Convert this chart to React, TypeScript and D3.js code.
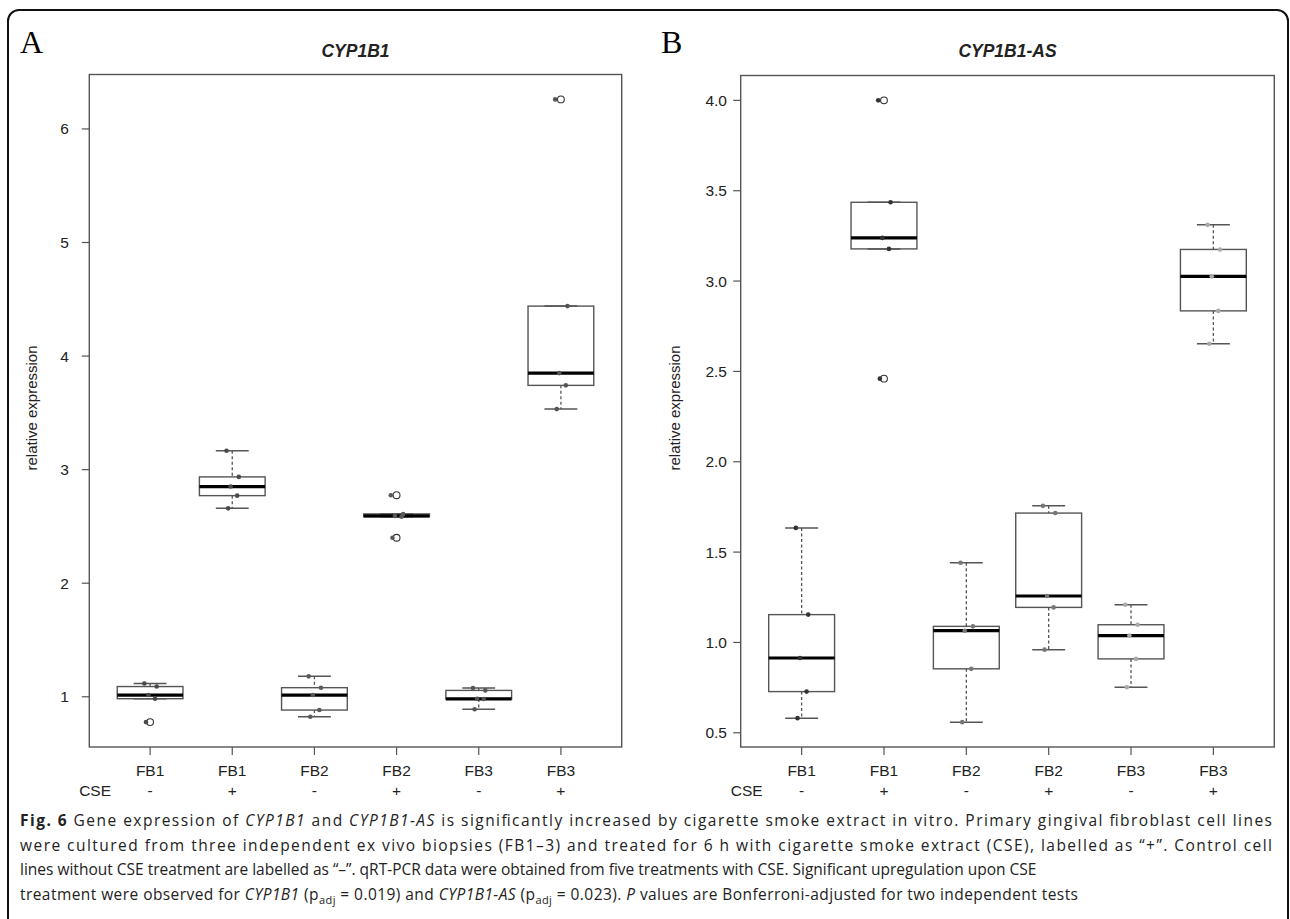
import React from "react";
import * as d3 from "d3";

// ---------- data ----------
const groupLabels = ["FB1", "FB1", "FB2", "FB2", "FB3", "FB3"];
const cseLabels = ["-", "+", "-", "+", "-", "+"];

// CYP1B1 (panel A)
const cyp_FB1_neg = [0.777, 0.983, 1.015, 1.09, 1.117];
const cyp_FB1_pos = [2.659, 2.771, 2.851, 2.936, 3.166];
const cyp_FB2_neg = [0.824, 0.883, 1.015, 1.08, 1.18];
const cyp_FB2_pos = [2.4, 2.585, 2.592, 2.61, 2.775];
const cyp_FB3_neg = [0.89, 0.98, 0.982, 1.056, 1.077];
const cyp_FB3_pos = [3.533, 3.742, 3.85, 4.44, 6.26];

// CYP1B1-AS (panel B)
const as_FB1_neg = [0.581, 0.728, 0.914, 1.154, 1.634];
const as_FB1_pos = [2.46, 3.178, 3.239, 3.436, 4.0];
const as_FB2_neg = [0.559, 0.854, 1.065, 1.089, 1.441];
const as_FB2_pos = [0.96, 1.194, 1.257, 1.716, 1.756];
const as_FB3_neg = [0.752, 0.909, 1.038, 1.098, 1.209];
const as_FB3_pos = [2.653, 2.835, 3.026, 3.175, 3.311];

const ticksA = [1, 2, 3, 4, 5, 6];
const ticksB = [0.5, 1.0, 1.5, 2.0, 2.5, 3.0, 3.5, 4.0];

const seriesA = [cyp_FB1_neg, cyp_FB1_pos, cyp_FB2_neg, cyp_FB2_pos, cyp_FB3_neg, cyp_FB3_pos];
const seriesB = [as_FB1_neg, as_FB1_pos, as_FB2_neg, as_FB2_pos, as_FB3_neg, as_FB3_pos];

// ---------- styling constants ----------
const JITTER = [-0.05, 0.06, -0.02, 0.08, -0.07];
const AXIS = "#555";
const FONT = "'Liberation Sans', Arial, sans-serif";

function fivenum(v: number[]) {
  const x = [...v].sort((a, b) => a - b);
  const n = x.length;
  const n4 = Math.floor((n + 3) / 2) / 2;
  const d = [1, n4, (n + 1) / 2, n + 1 - n4, n];
  return d.map((i) => 0.5 * (x[Math.floor(i) - 1] + x[Math.ceil(i) - 1]));
}

function boxStats(v: number[]) {
  const f = fivenum(v);
  const q1 = f[1], med = f[2], q3 = f[3];
  const iqr = q3 - q1;
  const lo = q1 - 1.5 * iqr, hi = q3 + 1.5 * iqr;
  const inside = v.filter((d) => d >= lo && d <= hi);
  return {
    q1, med, q3,
    wlo: d3.min(inside) as number,
    whi: d3.max(inside) as number,
    out: v.filter((d) => d < lo || d > hi),
  };
}

type PanelProps = {
  series: number[][];
  ticks: number[];
  tickFmt: (d: number) => string;
  left: number;
  right: number;
  top: number;
  bottom: number;
  title: string;
  letter: string;
  letterX: number;
  yTitleX: number;
  tickLabelAnchor: "middle" | "end";
  tickLabelX: number;
  dotColors: string[];
};

function Panel(p: PanelProps) {
  const all = p.series.flat();
  const mn = d3.min(all) as number, mx = d3.max(all) as number;
  const pad = (mx - mn) * 0.04;
  const y = d3.scaleLinear().domain([mn - pad, mx + pad]).range([p.bottom, p.top]);
  const x = d3.scaleLinear().domain([0.26, 6.74]).range([p.left, p.right]);
  const step = x(2) - x(1);
  const bw = step * 0.8;
  const cx = (p.left + p.right) / 2;

  return (
    <g>
      <text x={p.letterX} y={53} fontFamily="'Liberation Serif', 'Times New Roman', serif" fontSize={32} fill="#000">
        {p.letter}
      </text>
      <text x={cx} y={57} textAnchor="middle" fontFamily={FONT} fontWeight="bold" fontStyle="italic" fontSize={17.5} fill="#222">
        {p.title}
      </text>
      <rect x={p.left} y={p.top} width={p.right - p.left} height={p.bottom - p.top} fill="none" stroke={AXIS} strokeWidth={1.4} />
      {p.ticks.map((t) => (
        <g key={t}>
          <line x1={p.left - 7.5} x2={p.left} y1={y(t)} y2={y(t)} stroke={AXIS} strokeWidth={1.2} />
          <text x={p.tickLabelX} y={y(t) + 5.5} textAnchor={p.tickLabelAnchor} fontFamily={FONT} fontSize={15.5} fill="#222">
            {p.tickFmt(t)}
          </text>
        </g>
      ))}
      <text
        transform={`translate(${p.yTitleX},${408}) rotate(-90)`}
        textAnchor="middle"
        fontFamily={FONT}
        fontSize={15}
        fill="#222"
      >
        relative expression
      </text>
      {groupLabels.map((g, i) => (
        <g key={i}>
          <line x1={x(i + 1)} x2={x(i + 1)} y1={p.bottom} y2={p.bottom + 8} stroke={AXIS} strokeWidth={1.2} />
          <text x={x(i + 1)} y={775.5} textAnchor="middle" fontFamily={FONT} fontSize={15.5} fill="#222">
            {g}
          </text>
          <text x={x(i + 1)} y={795.5} textAnchor="middle" fontFamily={FONT} fontSize={15.5} fill="#222">
            {cseLabels[i]}
          </text>
        </g>
      ))}
      <text x={x(1) - 55} y={795.5} textAnchor="middle" fontFamily={FONT} fontSize={15.5} fill="#222">
        CSE
      </text>
      {p.series.map((vals, i) => {
        const s = boxStats(vals);
        const c = x(i + 1);
        const col = p.dotColors[i];
        return (
          <g key={i}>
            <line x1={c} x2={c} y1={y(s.whi)} y2={y(s.q3)} stroke={AXIS} strokeWidth={1.3} strokeDasharray="3,2.5" />
            <line x1={c} x2={c} y1={y(s.q1)} y2={y(s.wlo)} stroke={AXIS} strokeWidth={1.3} strokeDasharray="3,2.5" />
            <line x1={c - bw / 4} x2={c + bw / 4} y1={y(s.whi)} y2={y(s.whi)} stroke={AXIS} strokeWidth={1.5} />
            <line x1={c - bw / 4} x2={c + bw / 4} y1={y(s.wlo)} y2={y(s.wlo)} stroke={AXIS} strokeWidth={1.5} />
            <rect x={c - bw / 2} y={y(s.q3)} width={bw} height={Math.max(0.5, y(s.q1) - y(s.q3))} fill="none" stroke={AXIS} strokeWidth={1.4} />
            <line x1={c - bw / 2} x2={c + bw / 2} y1={y(s.med)} y2={y(s.med)} stroke="#000" strokeWidth={3.2} />
            {s.out.map((o, k) => (
              <circle key={k} cx={c} cy={y(o)} r={3.4} fill="#fff" stroke="#333" strokeWidth={1.1} />
            ))}
            {vals.map((v, k) => (
              <circle key={"d" + k} cx={c + JITTER[k % JITTER.length] * step} cy={y(v)} r={2.3} fill={col} />
            ))}
          </g>
        );
      })}
    </g>
  );
}

const captionLines: { t: string; b?: boolean; i?: boolean; sub?: boolean }[][] = [
  [
    { t: "Fig. 6", b: true },
    { t: " Gene expression of " },
    { t: "CYP1B1", i: true },
    { t: " and " },
    { t: "CYP1B1-AS", i: true },
    { t: " is significantly increased by cigarette smoke extract in vitro. Primary gingival fibroblast cell lines" },
  ],
  [
    { t: "were cultured from three independent ex vivo biopsies (FB1\u20133) and treated for 6 h with cigarette smoke extract (CSE), labelled as \u201c+\u201d. Control cell" },
  ],
  [
    { t: "lines without CSE treatment are labelled as \u201c\u2013\u201d. qRT-PCR data were obtained from five treatments with CSE. Significant upregulation upon CSE" },
  ],
  [
    { t: "treatment were observed for " },
    { t: "CYP1B1", i: true },
    { t: " (p" },
    { t: "adj", sub: true },
    { t: " = 0.019) and " },
    { t: "CYP1B1-AS", i: true },
    { t: " (p" },
    { t: "adj", sub: true },
    { t: " = 0.023). " },
    { t: "P", i: true },
    { t: " values are Bonferroni-adjusted for two independent tests" },
  ],
];
const captionWidths = [1252, 1252, 0, 1058];

export default function App() {
  return (
    <svg
      width={1290}
      height={919}
      style={{ position: "absolute", left: 0, top: 0, background: "#fff" }}
    >
      <rect x={0} y={0} width={1290} height={919} fill="#fff" />
      <rect x={8} y={10} width={1280} height={940} rx={11} fill="none" stroke="#111" strokeWidth={2} />
      <Panel
        series={seriesA}
        ticks={ticksA}
        tickFmt={(d) => String(d)}
        left={89.3}
        right={621.7}
        top={74.5}
        bottom={747}
        title="CYP1B1"
        letter="A"
        letterX={20}
        yTitleX={37}
        tickLabelAnchor="middle"
        tickLabelX={64.5}
        dotColors={["#4a4a4a", "#4a4a4a", "#5a5a5a", "#5a5a5a", "#555", "#555"]}
      />
      <Panel
        series={seriesB}
        ticks={ticksB}
        tickFmt={(d) => d3.format(".1f")(d)}
        left={740.7}
        right={1274.3}
        top={75.5}
        bottom={747}
        title="CYP1B1-AS"
        letter="B"
        letterX={661}
        yTitleX={680}
        tickLabelAnchor="end"
        tickLabelX={727}
        dotColors={["#333", "#333", "#777", "#777", "#aaa", "#aaa"]}
      />
      {captionLines.map((segs, li) => (
        <text
          key={li}
          x={20}
          y={826 + li * 24.5}
          fontFamily="'Open Sans', sans-serif"
          fontSize={15.5}
          fill="#222"
          {...(captionWidths[li] ? { textLength: captionWidths[li], lengthAdjust: "spacing" } : {})}
        >
          {segs.map((s, k) => (
            <tspan
              key={k}
              fontWeight={s.b ? "bold" : undefined}
              fontStyle={s.i ? "italic" : undefined}
              fontSize={s.sub ? 11 : undefined}
              dy={s.sub ? 4 : k > 0 && segs[k - 1].sub ? -4 : undefined}
            >
              {s.t}
            </tspan>
          ))}
        </text>
      ))}
    </svg>
  );
}
